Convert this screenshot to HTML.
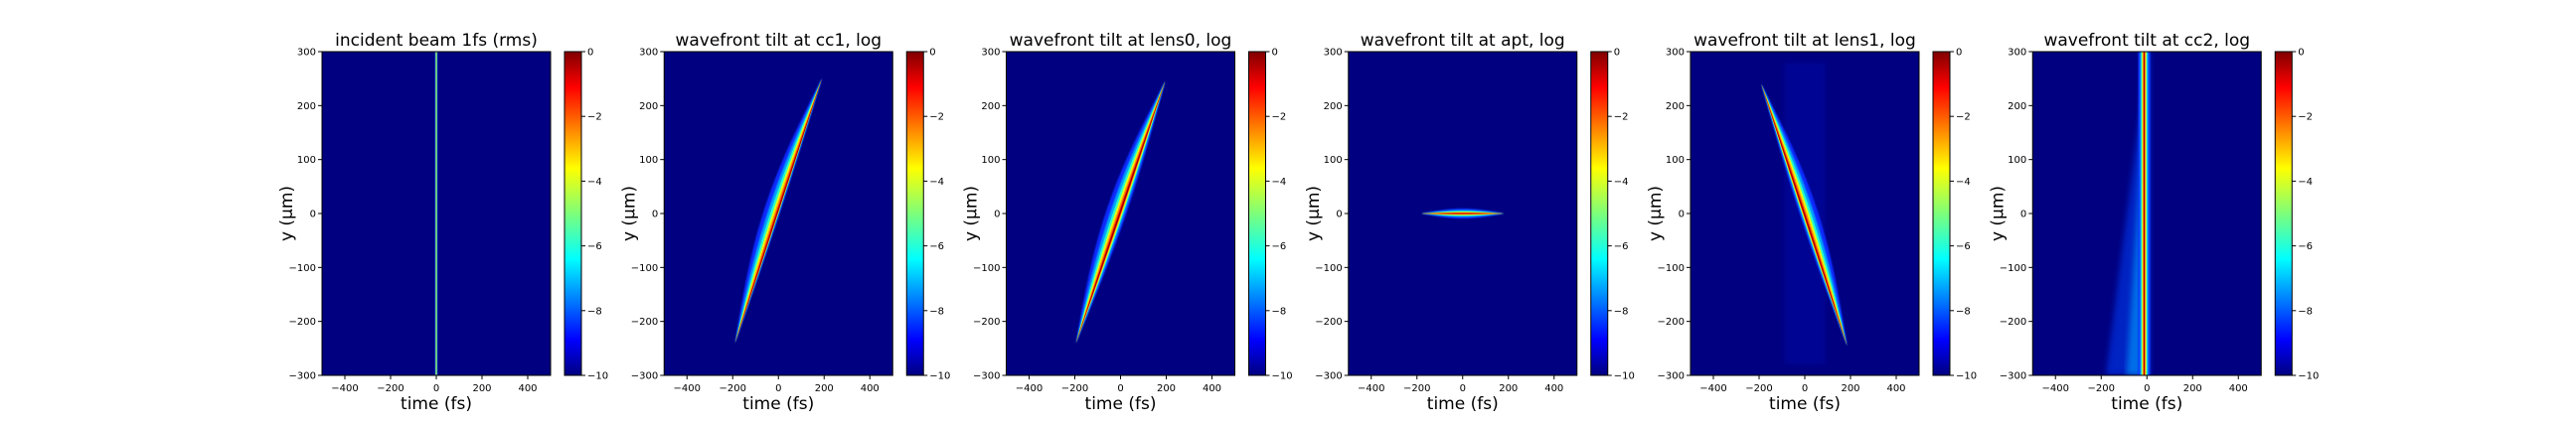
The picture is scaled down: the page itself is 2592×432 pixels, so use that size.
<!DOCTYPE html>
<html><head><meta charset="utf-8"><style>
body{margin:0;background:#fff;width:2592px;height:432px;overflow:hidden}
svg{display:block;font-family:"DejaVu Sans","Liberation Sans",sans-serif}
</style></head><body>
<svg id="fig" width="2592" height="432" viewBox="0 0 2592 432" xmlns="http://www.w3.org/2000/svg">
<defs>
<linearGradient id="jet" x1="0" y1="1" x2="0" y2="0">
<stop offset="0" stop-color="#000080"/><stop offset="0.11" stop-color="#0000ff"/>
<stop offset="0.36" stop-color="#00ffff"/><stop offset="0.5" stop-color="#7dff7a"/>
<stop offset="0.64" stop-color="#ffff00"/><stop offset="0.89" stop-color="#ff0000"/>
<stop offset="1" stop-color="#800000"/></linearGradient>
<filter id="blur1"><feGaussianBlur stdDeviation="0.8"/></filter>
<filter id="blur3"><feGaussianBlur stdDeviation="3"/></filter>
</defs>
</svg>
<script>
const titles=["incident beam 1fs (rms)","wavefront tilt at cc1, log","wavefront tilt at lens0, log","wavefront tilt at apt, log","wavefront tilt at lens1, log","wavefront tilt at cc2, log"];
const xTicks=[-400,-200,0,200,400];
const yTicks=[-300,-200,-100,0,100,200,300];
const cbTicks=[0,-2,-4,-6,-8,-10];
// streak start/end points (time fs, y um) per panel
const streakStartT=[0,-190,-195,-180,-190,-12];
const streakStartY=[-300,-240,-240,0,240,-300];
const streakEndT=[0,190,195,180,185,-12];
const streakEndY=[300,250,245,0,-245,300];
// peak log intensity per panel
const peakLevel=[-4,0,0,0,0,0];
const NS="http://www.w3.org/2000/svg";
const svg=document.getElementById('fig');
const PW=230,PT=52,PH=326,step=344.25,L0=324;
function mk(tag,attrs,parent){const e=document.createElementNS(NS,tag);for(const k in attrs)e.setAttribute(k,attrs[k]);(parent||svg).appendChild(e);return e;}
const halfW=[1.2,8,10,5,9,6];
const taper=[0,1,1,1,1,0];
const lean=[0,6,4,0,5,0];
for(let i=0;i<6;i++){
  const L=L0+step*i;
  const sx=t=>L+(t+500)/1000*PW;
  const sy=v=>PT+(300-v)/600*PH;
  const g=mk('g',{});
  
  
  const clipId='clip'+i;
  const cp=mk('clipPath',{id:clipId},g);mk('rect',{x:L,y:PT,width:PW,height:PH},cp);
  const bg=mk('rect',{x:L,y:PT,width:PW,height:PH,fill:'#000080'},g);
  
  
  const hm=mk('g',{'clip-path':'url(#'+clipId+')'},g);
  
  
  if(i===4){mk('rect',{x:sx(-90),y:sy(280),width:sx(90)-sx(-90),height:sy(-280)-sy(280),fill:'#0010b8',opacity:0.35,filter:'url(#blur3)'},hm);}
  const x0=sx(streakStartT[i]),y0=sy(streakStartY[i]),x1=sx(streakEndT[i]),y1=sy(streakEndY[i]);
  if(i===5){
    const pts=[[x0,y1],[x0+6,y1],[x0+6,y0],[sx(-180),y0],[x0-4,y1+60]];
    mk('polygon',{points:pts.map(p=>p.join(',')).join(' '),fill:'#0030e0',opacity:0.7,filter:'url(#blur3)'},hm);
    const pts2=[[x0,y1],[x0+4,y1],[x0+4,y0],[sx(-90),y0],[x0-3,y1+100]];
    mk('polygon',{points:pts2.map(p=>p.join(',')).join(' '),fill:'#00a0ff',opacity:0.6,filter:'url(#blur3)'},hm);
  }
  const dx=x1-x0,dy=y1-y0,len=Math.hypot(dx,dy),nx=-dy/len,ny=dx/len;
  const pk=peakLevel[i];
  const layers=[[1,'#0a2cff',-9],[0.7,'#00a8ff',-7],[0.5,'#30ffc0',-5.5],[0.35,'#e8ff10',-4],[0.22,'#ff9000',-2.5],[0.12,'#ff1000',-1],[0.06,'#900000',-0.2]];
  layers.forEach(([f,c,lv])=>{
    if(lv>pk+0.5)return;
    const w=halfW[i]*f,sh=lean[i]*f;
    let pts;
    if(taper[i]){
      const q=(t,s)=>[x0+dx*t+nx*s,y0+dy*t+ny*s];
      const prof=t=>Math.sin(Math.PI*t);
      const up=[],dn=[];
      for(let k=0;k<=20;k++){const t=k/20;up.push(q(t,(w-sh)*prof(t)));dn.unshift(q(t,-(w+sh)*prof(t)));}
      pts=up.concat(dn);
    }else{
      pts=[[x0+nx*w,y0+ny*w],[x1+nx*w,y1+ny*w],[x1-nx*w,y1-ny*w],[x0-nx*w,y0-ny*w]];
    }
    mk('polygon',{points:pts.map(p=>p.join(',')).join(' '),fill:c,filter:f>0.5?'url(#blur1)':''},hm);
  });
  mk('rect',{x:L,y:PT,width:PW,height:PH,fill:'none',stroke:'#000','stroke-width':1},g);
  xTicks.forEach(t=>{const x=sx(t);mk('line',{x1:x,y1:PT+PH,x2:x,y2:PT+PH+4,stroke:'#000'},g);
    const tx=mk('text',{x:x,y:PT+PH+16,'font-size':10,'text-anchor':'middle'},g);tx.textContent=String(t).replace('-','\u2212');
    });
  yTicks.forEach(v=>{const y=sy(v);mk('line',{x1:L-4,y1:y,x2:L,y2:y,stroke:'#000'},g);
    const tx=mk('text',{x:L-6,y:y+3.5,'font-size':10,'text-anchor':'end'},g);tx.textContent=String(v).replace('-','\u2212');
    });
  const tt=mk('text',{x:L+PW/2,y:46,'font-size':17,'text-anchor':'middle'},g);tt.textContent=titles[i];
  
  const xl=mk('text',{x:L+PW/2,y:412,'font-size':17,'text-anchor':'middle'},g);xl.textContent='time (fs)';
  
  const yl=mk('text',{x:0,y:0,'font-size':17,'text-anchor':'middle',transform:'translate('+(L-30)+','+(PT+PH/2)+') rotate(-90)'},g);yl.textContent='y (\u03bcm)';
  
  const cx=L+244,cw=17;
  const cb=mk('rect',{x:cx,y:PT,width:cw,height:PH,fill:'url(#jet)',stroke:'#000','stroke-width':1},g);
  
  cbTicks.forEach(v=>{const y=PT+(-v)/10*PH;mk('line',{x1:cx+cw,y1:y,x2:cx+cw+4,y2:y,stroke:'#000'},g);
    const tx=mk('text',{x:cx+cw+6,y:y+3.5,'font-size':10},g);tx.textContent=String(v).replace('-','\u2212');
    });
}
</script>
</body></html>
